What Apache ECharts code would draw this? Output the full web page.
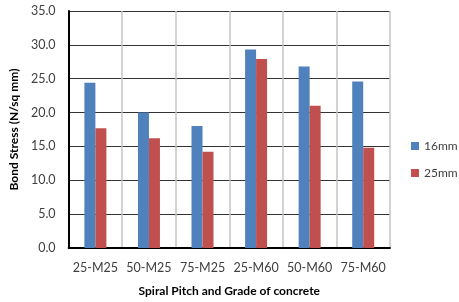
<!DOCTYPE html>
<html>
<head>
<meta charset="utf-8">
<script src="https://cdn.jsdelivr.net/npm/echarts@6/dist/echarts.min.js"></script>
<style>
  html, body { margin: 0; padding: 0; background: #fff; }
  #chart { width: 459px; height: 302px; }
</style>
</head>
<body>
<div id="chart"></div>
<script>
// categories and values
var categories = ['25-M25', '50-M25', '75-M25', '25-M60', '50-M60', '75-M60'];
var bar16 = [24.4, 20.0, 18.0, 29.3, 26.8, 24.6];
var bar25 = [17.7, 16.2, 14.2, 27.9, 21.0, 14.8];
var seriesNames = ['16mm', '25mm'];
var yTicks = { min: 0, max: 35, step: 5 };

var fontFam = 'Lato, "Open Sans", sans-serif';
var chart = echarts.init(document.getElementById('chart'));

var option = {
    animation: false,
    textStyle: { fontFamily: fontFam },
    grid: { left: 63, right: 69, top: 11, bottom: 52 },
    legend: {
        orient: 'vertical',
        left: 411,
        top: 140,
        padding: 0,
        itemWidth: 8,
        itemHeight: 8,
        itemGap: 15,
        icon: 'rect',
        textStyle: { fontSize: 12, color: '#404040', fontFamily: fontFam },
        data: seriesNames
    },
    xAxis: {
        type: 'category',
        data: categories,
        name: 'Spiral Pitch and Grade of concrete',
        nameLocation: 'middle',
        nameGap: 37,
        nameTextStyle: { fontSize: 12, fontWeight: 'bold', color: '#000', fontFamily: fontFam },
        axisLine: { lineStyle: { color: '#000', width: 2 } },
        axisTick: { show: false, interval: 0 },
        axisLabel: { fontSize: 12.5, color: '#404040', margin: 13, interval: 0 },
        splitLine: { show: true, interval: 0, lineStyle: { color: '#c4c4c4', width: 1.5 } }
    },
    yAxis: {
        type: 'value',
        min: yTicks.min,
        max: yTicks.max,
        interval: yTicks.step,
        name: 'Bond Stress (N/sq mm)',
        nameLocation: 'middle',
        nameGap: 42,
        nameTextStyle: { fontSize: 12, fontWeight: 'bold', color: '#000', fontFamily: fontFam },
        axisLine: { show: true, lineStyle: { color: '#000', width: 2 } },
        axisTick: { show: false },
        axisLabel: {
            fontSize: 12.5, color: '#404040', margin: 13,
            formatter: function (v) { return v.toFixed(1); }
        },
        splitLine: { lineStyle: { color: '#333', width: 1 } }
    },
    series: [
        {
            name: seriesNames[0],
            type: 'bar',
            data: bar16,
            barWidth: 11,
            barGap: '0%',
            itemStyle: { color: '#4F81BD' }
        },
        {
            name: seriesNames[1],
            type: 'bar',
            data: bar25,
            barWidth: 11,
            barGap: '0%',
            itemStyle: { color: '#C0504D' }
        }
    ]
};
chart.setOption(option);
</script>
</body>
</html>
